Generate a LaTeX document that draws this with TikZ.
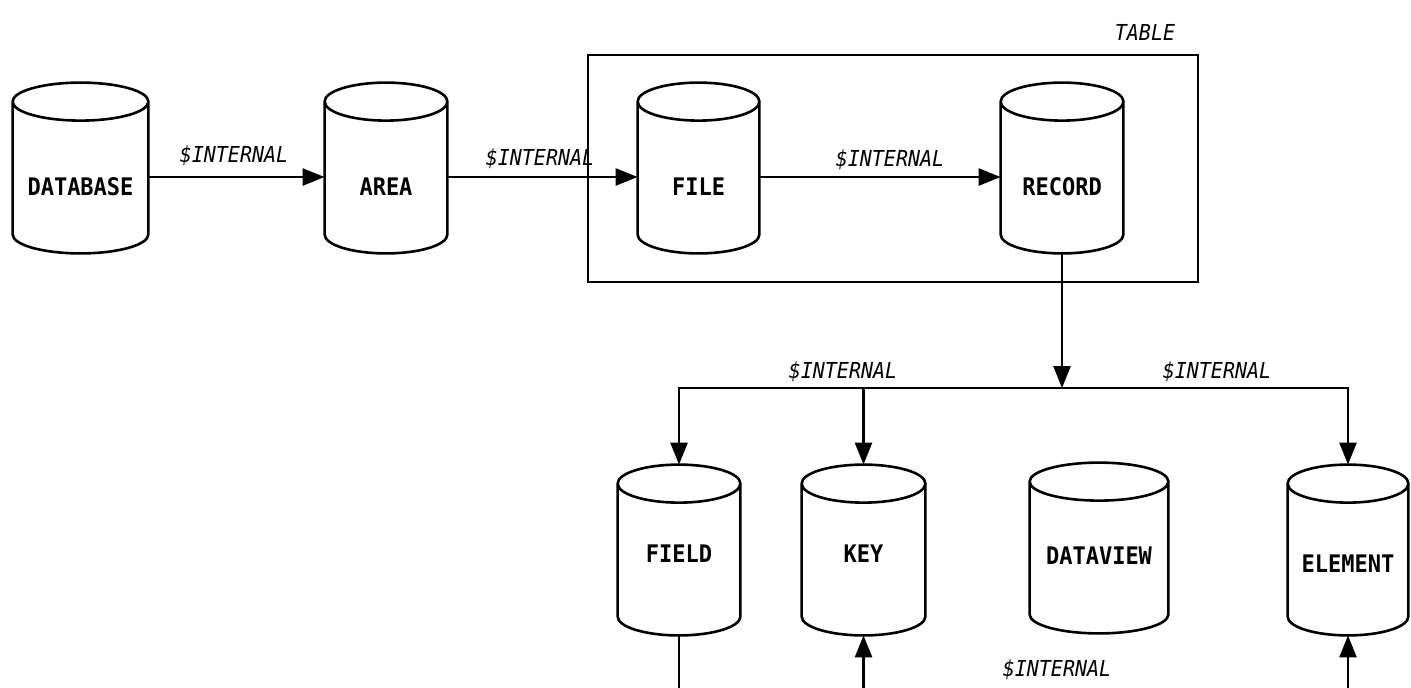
\documentclass[tikz,border=0pt]{standalone}
\usepackage{fontspec}
\setmainfont{DejaVu Sans Mono}
\usetikzlibrary{arrows.meta,calc}
\begin{document}
\begin{tikzpicture}[x=0.5pt,y=-0.5pt,
  cyl/.style={minimum width=#1*0.5pt, minimum height=85pt, inner sep=0pt},
  cyl/.default=122,
  cname/.style={font=\fontsize{11}{11}\selectfont\bfseries, inner sep=0pt, yscale=1.1, transform shape},
  lbl/.style={font=\fontsize{10}{10}\selectfont\itshape, inner sep=1pt, yscale=1.1, transform shape},
  conn/.style={line width=1.3pt, -{Triangle[length=11pt,width=8.5pt]}},
  plain/.style={line width=1.3pt},
  frame/.style={line width=1pt},
]
\useasboundingbox[fill=white] (0,0) rectangle (1411,687);

% cylinders (top row)
\node[cyl=135, label={[cname,yshift=-8.5pt]center:DATABASE}] (database) at (80.5,168) {};
\node[cyl=122, label={[cname,yshift=-8.5pt]center:AREA}] (area) at (386,168) {};
\node[cyl=121, label={[cname,yshift=-8.5pt]center:FILE}] (file) at (698.5,168) {};
\node[cyl=122, label={[cname,yshift=-8.5pt]center:RECORD}] (record) at (1062,168) {};
% cylinders (bottom row)
\node[cyl=122, label={[cname,yshift=-1.5pt]center:FIELD}] (field) at (679,550) {};
\node[cyl=123, label={[cname,yshift=-1.5pt]center:KEY}] (key) at (863.5,550) {};
\node[cyl=138, label={[cname,yshift=-3.5pt]center:DATAVIEW}] (dataview) at (1099,548) {};
\node[cyl=120, label={[cname,yshift=-6pt]center:ELEMENT}] (element) at (1348,550) {};

\foreach \c in {database,area,file,record,field,key,dataview,element}{
  \draw[plain] let \p1=(\c.north west), \p2=(\c.south east), \n1={(\x2-\x1)/2} in
    (\x1,\y1-9.5pt) -- (\x1,\y2+9.5pt)
      arc[start angle=180,end angle=360,x radius=\n1,y radius=9.5pt]
      -- (\x2,\y1-9.5pt)
    (\x1,\y1-9.5pt) arc[start angle=180,end angle=-180,x radius=\n1,y radius=9.5pt];
}

% table frame
\draw[frame] (588,55) rectangle (1198,282);
\node[lbl] (tablelbl) at (1145,32) {TABLE};

% top connectors
\draw[conn] ([yshift=-4.5pt]database.east) -- ([yshift=-4.5pt]area.west);
\draw[conn] ([yshift=-4.5pt]area.east) -- ([yshift=-4.5pt]file.west);
\draw[conn] ([yshift=-4.5pt]file.east) -- ([yshift=-4.5pt]record.west);
\node[lbl] (l1) at (234,156) {\$INTERNAL};
\node[lbl] (l2) at (540,159) {\$INTERNAL};
\node[lbl] (l3) at (890,160) {\$INTERNAL};

% bus
\coordinate (bus) at (1062,388);
\draw[conn] (record.south) -- (bus);
\draw[conn] (bus) -| (field.north);
\draw[conn] (bus) -| (element.north);
\draw[conn] (key.north |- bus) -- (key.north);
\node[lbl] (l4) at (843,372) {\$INTERNAL};
\node[lbl] (l5) at (1217,372) {\$INTERNAL};

% bottom
\coordinate (bot) at (0,690);
\draw[plain] (field.south) -- (field.south |- bot);
\draw[conn] (key.south |- bot) -- (key.south);
\draw[conn] (element.south |- bot) -- (element.south);
\node[lbl] (l6) at (1057,670) {\$INTERNAL};
\end{tikzpicture}
\end{document}
